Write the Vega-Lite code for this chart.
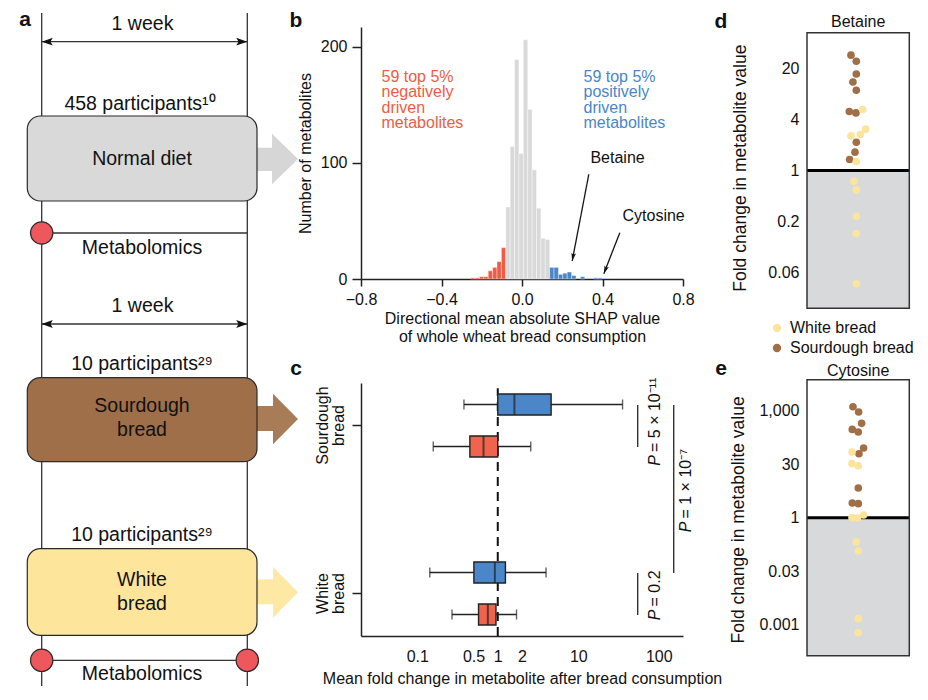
{
  "$schema": "https://vega.github.io/schema/vega-lite/v6.json",
  "padding": 0,
  "background": "white",
  "config": {
    "font": "Liberation Sans",
    "view": {"stroke": null},
    "axis": {"grid": false, "domainColor": "#222", "tickColor": "#222", "labelColor": "#111", "titleColor": "#111", "labelFontSize": 16, "titleFontSize": 16, "titleFontWeight": "normal", "domainWidth": 1.5, "tickWidth": 1.5, "labelFlush": false, "labelOverlap": false, "labelBound": false},
    "legend": {"labelFontSize": 16, "labelColor": "#111"},
    "title": {"fontSize": 16, "fontWeight": "normal", "color": "#111"}
  },
  "datasets": {
    "a_lines": [
      {"x": 4.17, "y": 1.2, "x2": 4.17, "y2": 68.5},
      {"x": 24.73, "y": 1.2, "x2": 24.73, "y2": 68.5},
      {"x": 4.17, "y": 4.07, "x2": 24.73, "y2": 4.07},
      {"x": 4.17, "y": 23.2, "x2": 24.73, "y2": 23.2},
      {"x": 4.17, "y": 32.3, "x2": 24.73, "y2": 32.3},
      {"x": 4.17, "y": 65.93, "x2": 24.73, "y2": 65.93}
    ],
    "a_heads": [
      {"x": 4.17, "y": 4.07, "end": "left"},
      {"x": 24.73, "y": 4.07, "end": "right"},
      {"x": 4.17, "y": 32.3, "end": "left"},
      {"x": 24.73, "y": 32.3, "end": "right"}
    ],
    "a_boxes": [
      {"kind": "Normal diet", "x": 2.73, "x2": 25.7, "y": 11.5, "y2": 20.0},
      {"kind": "Sourdough bread", "x": 2.73, "x2": 25.7, "y": 37.67, "y2": 46.07},
      {"kind": "White bread", "x": 2.73, "x2": 25.7, "y": 54.77, "y2": 63.43}
    ],
    "a_shafts": [
      {"kind": "Normal diet", "x": 25.6, "x2": 27.25, "y": 14.67, "y2": 17.0},
      {"kind": "Sourdough bread", "x": 25.6, "x2": 27.35, "y": 40.5, "y2": 43.0},
      {"kind": "White bread", "x": 25.6, "x2": 27.35, "y": 57.83, "y2": 60.33}
    ],
    "a_tips": [
      {"kind": "Normal diet", "x": 27.2, "y": 13.27, "y2": 18.33},
      {"kind": "Normal diet", "x": 29.8, "y": 15.8, "y2": 15.8},
      {"kind": "Sourdough bread", "x": 27.3, "y": 39.27, "y2": 44.33},
      {"kind": "Sourdough bread", "x": 29.8, "y": 41.8, "y2": 41.8},
      {"kind": "White bread", "x": 27.3, "y": 56.6, "y2": 61.67},
      {"kind": "White bread", "x": 29.8, "y": 59.13, "y2": 59.13}
    ],
    "a_dots": [
      {"x": 4.17, "y": 23.2},
      {"x": 4.17, "y": 65.93},
      {"x": 24.73, "y": 65.93}
    ],
    "a_texts": [
      {"x": 14.25, "y": 2.3, "text": "1 week"},
      {"x": 14.0, "y": 10.3, "text": "458 participants¹⁰"},
      {"x": 14.2, "y": 15.8, "text": "Normal diet"},
      {"x": 14.2, "y": 24.7, "text": "Metabolomics"},
      {"x": 14.25, "y": 30.5, "text": "1 week"},
      {"x": 14.2, "y": 36.3, "text": "10 participants²⁹"},
      {"x": 14.2, "y": 40.5, "text": "Sourdough\nbread"},
      {"x": 14.2, "y": 53.4, "text": "10 participants²⁹"},
      {"x": 14.2, "y": 57.9, "text": "White\nbread"},
      {"x": 14.2, "y": 67.3, "text": "Metabolomics"}
    ],
    "a_letters": [
      {"x": 2.5, "y": 1.9, "text": "a"},
      {"x": 29.6, "y": 2.0, "text": "b"},
      {"x": 29.6, "y": 36.8, "text": "c"},
      {"x": 72.1, "y": 2.1, "text": "d"},
      {"x": 72.1, "y": 36.8, "text": "e"}
    ],
    "b_bins": [
      {"start": -0.2550, "end": -0.2332, "count": 1, "group": "neg"},
      {"start": -0.2332, "end": -0.2114, "count": 1, "group": "neg"},
      {"start": -0.2114, "end": -0.1896, "count": 2, "group": "neg"},
      {"start": -0.1896, "end": -0.1678, "count": 2, "group": "neg"},
      {"start": -0.1678, "end": -0.1460, "count": 7, "group": "neg"},
      {"start": -0.1460, "end": -0.1242, "count": 10, "group": "neg"},
      {"start": -0.1242, "end": -0.1024, "count": 15, "group": "neg"},
      {"start": -0.1024, "end": -0.0806, "count": 27, "group": "neg"},
      {"start": -0.0806, "end": -0.0588, "count": 62, "group": "mid"},
      {"start": -0.0588, "end": -0.0370, "count": 114, "group": "mid"},
      {"start": -0.0370, "end": -0.0152, "count": 189, "group": "mid"},
      {"start": -0.0152, "end": 0.0066, "count": 108, "group": "mid"},
      {"start": 0.0066, "end": 0.0284, "count": 206, "group": "mid"},
      {"start": 0.0284, "end": 0.0502, "count": 146, "group": "mid"},
      {"start": 0.0502, "end": 0.0720, "count": 94, "group": "mid"},
      {"start": 0.0720, "end": 0.0938, "count": 61, "group": "mid"},
      {"start": 0.0938, "end": 0.1156, "count": 35, "group": "mid"},
      {"start": 0.1156, "end": 0.1374, "count": 34, "group": "mid"},
      {"start": 0.1374, "end": 0.1592, "count": 10, "group": "pos"},
      {"start": 0.1592, "end": 0.1810, "count": 10, "group": "pos"},
      {"start": 0.1810, "end": 0.2028, "count": 4, "group": "pos"},
      {"start": 0.2028, "end": 0.2246, "count": 5, "group": "pos"},
      {"start": 0.2246, "end": 0.2464, "count": 6, "group": "pos"},
      {"start": 0.2464, "end": 0.2682, "count": 3, "group": "pos"},
      {"start": 0.2900, "end": 0.3118, "count": 2, "group": "pos"},
      {"start": 0.3554, "end": 0.3772, "count": 1, "group": "pos"},
      {"start": 0.3772, "end": 0.3990, "count": 1, "group": "pos"}
    ],
    "b_groups": [
      {"group": "neg", "x": -0.698, "y": 174, "label": "59 top 5%\nnegatively\ndriven\nmetabolites"},
      {"group": "pos", "x": 0.3056, "y": 174, "label": "59 top 5%\npositively\ndriven\nmetabolites"}
    ],
    "b_names": [
      {"name": "Betaine", "x": 0.340, "y": 104.2},
      {"name": "Cytosine", "x": 0.4994, "y": 54.2}
    ],
    "b_arrows": [
      {"name": "Betaine", "x": 0.332, "y": 90.2, "x2": 0.2494, "y2": 15.5},
      {"name": "Cytosine", "x": 0.486, "y": 39.9, "x2": 0.4066, "y2": 4.6}
    ],
    "c_boxes": [
      {"bread": "Sourdough bread", "dir": "positive", "lo": 0.38, "q1": 1.0, "med": 1.61, "q3": 4.6, "hi": 35.5},
      {"bread": "Sourdough bread", "dir": "negative", "lo": 0.158, "q1": 0.45, "med": 0.665, "q3": 1.0, "hi": 2.57},
      {"bread": "White bread", "dir": "positive", "lo": 0.143, "q1": 0.505, "med": 0.92, "q3": 1.245, "hi": 3.98},
      {"bread": "White bread", "dir": "negative", "lo": 0.27, "q1": 0.577, "med": 0.753, "q3": 0.95, "hi": 1.71}
    ],
    "c_pvals": [
      {"x": 54.8, "y": 8.965, "y2": 10.957, "tx": 90, "split": 8.585, "stat": "P", "rest": "= 5 × 10⁻¹¹"},
      {"x": 153.5, "y": 2.988, "y2": 10.957, "tx": 221, "split": 5.43, "stat": "P", "rest": "= 1 × 10⁻⁷"},
      {"x": 54.8, "y": 0.996, "y2": 2.988, "tx": 90, "split": 1.257, "stat": "P", "rest": "= 0.2"}
    ],
    "d_frame": [{"metabolite": "Betaine", "bottom": 0.0233, "ref": 1, "top": 43}],
    "e_frame": [{"metabolite": "Cytosine", "bottom": 0.000133, "ref": 1, "top": 7498}],
    "d_pts": [
      {"bread": "Sourdough bread", "swarm": -0.76, "fold": 23.3},
      {"bread": "Sourdough bread", "swarm": 0, "fold": 19.7},
      {"bread": "Sourdough bread", "swarm": 0, "fold": 13.9},
      {"bread": "Sourdough bread", "swarm": -0.48, "fold": 11.2},
      {"bread": "Sourdough bread", "swarm": 0, "fold": 8.94},
      {"bread": "Sourdough bread", "swarm": -1.0, "fold": 5.0},
      {"bread": "Sourdough bread", "swarm": -0.05, "fold": 4.82},
      {"bread": "Sourdough bread", "swarm": 0, "fold": 2.16},
      {"bread": "Sourdough bread", "swarm": -0.19, "fold": 1.65},
      {"bread": "Sourdough bread", "swarm": -0.95, "fold": 1.35},
      {"bread": "White bread", "swarm": 0.9, "fold": 5.28},
      {"bread": "White bread", "swarm": 1.33, "fold": 3.09},
      {"bread": "White bread", "swarm": 0.57, "fold": 2.67},
      {"bread": "White bread", "swarm": -0.76, "fold": 2.57},
      {"bread": "White bread", "swarm": 0, "fold": 1.28},
      {"bread": "White bread", "swarm": -0.33, "fold": 0.747},
      {"bread": "White bread", "swarm": 0, "fold": 0.589},
      {"bread": "White bread", "swarm": 0, "fold": 0.287},
      {"bread": "White bread", "swarm": 0, "fold": 0.179},
      {"bread": "White bread", "swarm": 0, "fold": 0.0454}
    ],
    "e_pts": [
      {"bread": "Sourdough bread", "swarm": -0.76, "fold": 1305},
      {"bread": "Sourdough bread", "swarm": 0.05, "fold": 929},
      {"bread": "Sourdough bread", "swarm": 0.48, "fold": 446},
      {"bread": "Sourdough bread", "swarm": -0.86, "fold": 302},
      {"bread": "Sourdough bread", "swarm": 0, "fold": 254},
      {"bread": "Sourdough bread", "swarm": 0.76, "fold": 90.5},
      {"bread": "Sourdough bread", "swarm": 0.1, "fold": 62.7},
      {"bread": "Sourdough bread", "swarm": 0, "fold": 6.82},
      {"bread": "Sourdough bread", "swarm": -0.86, "fold": 2.59},
      {"bread": "Sourdough bread", "swarm": 0, "fold": 2.48},
      {"bread": "White bread", "swarm": -0.9, "fold": 70},
      {"bread": "White bread", "swarm": -0.9, "fold": 32.9},
      {"bread": "White bread", "swarm": 0, "fold": 28.8},
      {"bread": "White bread", "swarm": -0.9, "fold": 1.0},
      {"bread": "White bread", "swarm": -0.1, "fold": 0.98},
      {"bread": "White bread", "swarm": 0.76, "fold": 1.19},
      {"bread": "White bread", "swarm": -0.29, "fold": 0.208},
      {"bread": "White bread", "swarm": 0, "fold": 0.116},
      {"bread": "White bread", "swarm": 0, "fold": 0.00146},
      {"bread": "White bread", "swarm": 0, "fold": 0.000588}
    ]
  },
  "columns": 4,
  "spacing": {"row": 74, "column": 61},
  "bounds": "flush",
  "align": "each",
  "resolve": {"scale": {"color": "independent", "fill": "independent", "shape": "independent"}, "legend": {"color": "independent"}},
  "concat": [
    {
      "width": 300,
      "height": 281.3,
      "resolve": {"scale": {"fill": "independent"}},
      "layer": [
        {
          "data": {"values": [{"x": 0, "y": 0, "x2": 1, "y2": 0.05}]},
          "mark": {"type": "rect", "fill": "white"},
          "encoding": {
            "x": {"field": "x", "type": "quantitative", "scale": {"domain": [0, 30], "nice": false, "zero": false}, "axis": null},
            "x2": {"field": "x2"},
            "y": {"field": "y", "type": "quantitative", "scale": {"domain": [2.6, 30.73], "reverse": true, "nice": false, "zero": false}, "axis": null},
            "y2": {"field": "y2"}
          }
        },
        {
          "data": {"name": "a_lines"},
          "mark": {"type": "rule", "color": "#333", "strokeWidth": 1.3},
          "encoding": {
            "x": {"field": "x", "type": "quantitative", "scale": {"domain": [0, 30], "nice": false, "zero": false}, "axis": null},
            "x2": {"field": "x2"},
            "y": {"field": "y", "type": "quantitative", "scale": {"domain": [2.6, 30.73], "reverse": true, "nice": false, "zero": false}, "axis": null},
            "y2": {"field": "y2"}
          }
        },
        {
          "data": {"name": "a_shafts"},
          "mark": {"type": "rect"},
          "encoding": {
            "x": {"field": "x", "type": "quantitative", "scale": {"domain": [0, 30], "nice": false, "zero": false}, "axis": null},
            "x2": {"field": "x2"},
            "y": {"field": "y", "type": "quantitative", "scale": {"domain": [2.6, 30.73], "reverse": true, "nice": false, "zero": false}, "axis": null},
            "y2": {"field": "y2"},
            "fill": {"field": "kind", "type": "nominal", "scale": {"domain": ["Normal diet", "Sourdough bread", "White bread"], "range": ["#d6d6d6", "#a97c58", "#fde8a4"]}, "legend": null}
          }
        },
        {
          "data": {"name": "a_tips"},
          "mark": {"type": "area"},
          "encoding": {
            "x": {"field": "x", "type": "quantitative", "scale": {"domain": [0, 30], "nice": false, "zero": false}, "axis": null},
            "y": {"field": "y", "type": "quantitative", "scale": {"domain": [2.6, 30.73], "reverse": true, "nice": false, "zero": false}, "axis": null},
            "y2": {"field": "y2"},
            "fill": {"field": "kind", "type": "nominal", "scale": {"domain": ["Normal diet", "Sourdough bread", "White bread"], "range": ["#d6d6d6", "#a97c58", "#fde8a4"]}, "legend": null}
          }
        },
        {
          "data": {"name": "a_boxes"},
          "mark": {"type": "rect", "cornerRadius": 13, "stroke": "#2b2b2b", "strokeWidth": 1.2},
          "encoding": {
            "x": {"field": "x", "type": "quantitative", "scale": {"domain": [0, 30], "nice": false, "zero": false}, "axis": null},
            "x2": {"field": "x2"},
            "y": {"field": "y", "type": "quantitative", "scale": {"domain": [2.6, 30.73], "reverse": true, "nice": false, "zero": false}, "axis": null},
            "y2": {"field": "y2"},
            "fill": {"field": "kind", "type": "nominal", "scale": {"domain": ["Normal diet", "Sourdough bread", "White bread"], "range": ["#d9d9d9", "#9e6f49", "#fde69c"]}, "legend": null}
          }
        },
        {
          "data": {"name": "a_dots"},
          "mark": {"type": "circle", "size": 500, "fill": "#ee585c", "stroke": "#2b2b2b", "strokeWidth": 1.2, "opacity": 1},
          "encoding": {
            "x": {"field": "x", "type": "quantitative", "scale": {"domain": [0, 30], "nice": false, "zero": false}, "axis": null},
            "y": {"field": "y", "type": "quantitative", "scale": {"domain": [2.6, 30.73], "reverse": true, "nice": false, "zero": false}, "axis": null}
          }
        },
        {
          "data": {"name": "a_heads"},
          "mark": {"type": "point", "filled": true, "color": "#111", "size": 85, "opacity": 1},
          "encoding": {
            "x": {"field": "x", "type": "quantitative", "scale": {"domain": [0, 30], "nice": false, "zero": false}, "axis": null},
            "y": {"field": "y", "type": "quantitative", "scale": {"domain": [2.6, 30.73], "reverse": true, "nice": false, "zero": false}, "axis": null},
            "shape": {"field": "end", "type": "nominal", "scale": {"domain": ["left", "right"], "range": ["M0,0L2.4,-0.85L1.9,0L2.4,0.85Z", "M0,0L-2.4,-0.85L-1.9,0L-2.4,0.85Z"]}, "legend": null}
          }
        },
        {
          "data": {"name": "a_texts"},
          "mark": {"type": "text", "fontSize": 19.5, "lineBreak": "\n", "lineHeight": 24, "align": "center", "baseline": "middle", "color": "#111"},
          "encoding": {
            "x": {"field": "x", "type": "quantitative", "scale": {"domain": [0, 30], "nice": false, "zero": false}, "axis": null},
            "y": {"field": "y", "type": "quantitative", "scale": {"domain": [2.6, 30.73], "reverse": true, "nice": false, "zero": false}, "axis": null},
            "text": {"field": "text"}
          }
        },
        {
          "data": {"name": "a_letters"},
          "mark": {"type": "text", "fontSize": 21, "fontWeight": "bold", "align": "center", "baseline": "middle", "color": "#111"},
          "encoding": {
            "x": {"field": "x", "type": "quantitative", "scale": {"domain": [0, 30], "nice": false, "zero": false}, "axis": null},
            "y": {"field": "y", "type": "quantitative", "scale": {"domain": [2.6, 30.73], "reverse": true, "nice": false, "zero": false}, "axis": null},
            "text": {"field": "text"}
          }
        }
      ]
    },
    {
      "width": 322,
      "height": 252,
      "layer": [
        {
          "data": {"name": "b_bins"},
          "mark": {"type": "rect", "stroke": "white", "strokeWidth": 0.4},
          "encoding": {
            "x": {"field": "start", "type": "quantitative", "scale": {"domain": [-0.8, 0.8], "nice": false, "zero": false},
                  "axis": {"values": [-0.8, -0.4, 0, 0.4, 0.8], "format": ".1f", "title": ["Directional mean absolute SHAP value", "of whole wheat bread consumption"], "tickSize": 7, "labelPadding": 5, "titlePadding": 3, "titleLineHeight": 18}},
            "x2": {"field": "end"},
            "y": {"field": "count", "type": "quantitative", "scale": {"domain": [0, 217], "nice": false, "zero": false},
                  "axis": {"values": [0, 100, 200], "title": "Number of metabolites", "tickSize": 9, "labelPadding": 5, "titlePadding": 7}},
            "y2": {"datum": 0},
            "color": {"field": "group", "type": "nominal", "scale": {"domain": ["neg", "mid", "pos"], "range": ["#f15b43", "#d9d9d9", "#4a86c8"]}, "legend": null}
          }
        },
        {
          "data": {"name": "b_groups"},
          "mark": {"type": "text", "align": "left", "baseline": "middle", "lineBreak": "\n", "lineHeight": 15.5, "fontSize": 16},
          "encoding": {
            "x": {"field": "x", "type": "quantitative", "scale": {"domain": [-0.8, 0.8], "nice": false, "zero": false}},
            "y": {"field": "y", "type": "quantitative", "scale": {"domain": [0, 217], "nice": false, "zero": false}},
            "text": {"field": "label"},
            "color": {"field": "group", "type": "nominal", "scale": {"domain": ["neg", "mid", "pos"], "range": ["#f15b43", "#d9d9d9", "#4a86c8"]}, "legend": null}
          }
        },
        {
          "data": {"name": "b_names"},
          "mark": {"type": "text", "align": "left", "baseline": "middle", "fontSize": 16, "color": "#111"},
          "encoding": {
            "x": {"field": "x", "type": "quantitative", "scale": {"domain": [-0.8, 0.8], "nice": false, "zero": false}},
            "y": {"field": "y", "type": "quantitative", "scale": {"domain": [0, 217], "nice": false, "zero": false}},
            "text": {"field": "name"}
          }
        },
        {
          "data": {"name": "b_arrows"},
          "mark": {"type": "rule", "color": "#111", "strokeWidth": 1.3},
          "encoding": {
            "x": {"field": "x", "type": "quantitative", "scale": {"domain": [-0.8, 0.8], "nice": false, "zero": false}},
            "y": {"field": "y", "type": "quantitative", "scale": {"domain": [0, 217], "nice": false, "zero": false}},
            "x2": {"field": "x2"},
            "y2": {"field": "y2"}
          }
        },
        {
          "data": {"name": "b_arrows"},
          "transform": [{"filter": "datum.name === 'Betaine'"}],
          "mark": {"type": "point", "shape": "M0,0L-0.7,-2.4L0,-1.9L0.7,-2.4Z", "filled": true, "color": "#111", "size": 44, "angle": 10.8, "opacity": 1},
          "encoding": {
            "x": {"field": "x2", "type": "quantitative", "scale": {"domain": [-0.8, 0.8], "nice": false, "zero": false}},
            "y": {"field": "y2", "type": "quantitative", "scale": {"domain": [0, 217], "nice": false, "zero": false}}
          }
        },
        {
          "data": {"name": "b_arrows"},
          "transform": [{"filter": "datum.name === 'Cytosine'"}],
          "mark": {"type": "point", "shape": "M0,0L-0.7,-2.4L0,-1.9L0.7,-2.4Z", "filled": true, "color": "#111", "size": 44, "angle": 21.3, "opacity": 1},
          "encoding": {
            "x": {"field": "x2", "type": "quantitative", "scale": {"domain": [-0.8, 0.8], "nice": false, "zero": false}},
            "y": {"field": "y2", "type": "quantitative", "scale": {"domain": [0, 217], "nice": false, "zero": false}}
          }
        }
      ]
    },
    {
      "width": 1.7,
      "height": 1,
      "data": {"values": [{}]},
      "mark": {"type": "text"},
      "encoding": {"text": {"value": ""}}
    },
    {
      "width": 102.3,
      "height": 281.3,
      "layer": [
        {
          "data": {"name": "d_frame"},
          "mark": {"type": "rect", "color": "#d8d9da"},
          "encoding": {
            "x": {"value": 0},
            "x2": {"value": "width"},
            "y": {"field": "bottom", "type": "quantitative", "scale": {"type": "log", "domain": [0.0233, 50.2], "nice": false},
                  "axis": {"values": [0.0625, 0.25, 1, 4, 16], "labelExpr": "datum.value == 16 ? '20' : datum.value == 4 ? '4' : datum.value == 1 ? '1' : datum.value == 0.25 ? '0.2' : '0.06'", "ticks": false, "domain": false, "labelPadding": 8, "title": "Fold change in metabolite value", "titleFontSize": 17.5, "titlePadding": 18}},
            "y2": {"field": "ref"}
          }
        },
        {
          "data": {"name": "d_frame"},
          "mark": {"type": "rule", "color": "#000", "strokeWidth": 3},
          "encoding": {
            "y": {"field": "ref", "type": "quantitative", "scale": {"type": "log", "domain": [0.0233, 50.2], "nice": false}}
          }
        },
        {
          "data": {"name": "d_pts"},
          "mark": {"type": "circle", "size": 58, "opacity": 1},
          "encoding": {
            "x": {"field": "swarm", "type": "quantitative", "scale": {"domain": [-7.04, 7.57], "nice": false, "zero": false}, "axis": null},
            "y": {"field": "fold", "type": "quantitative", "scale": {"type": "log", "domain": [0.0233, 50.2], "nice": false}},
            "color": {"field": "bread", "type": "nominal", "scale": {"domain": ["White bread", "Sourdough bread"], "range": ["#fde49c", "#a06e47"]},
                      "legend": {"orient": "none", "legendX": -38, "legendY": 293, "title": null, "symbolType": "circle", "symbolSize": 70, "labelFontSize": 16, "labelOffset": 5, "rowPadding": 4}}
          }
        },
        {
          "data": {"name": "d_frame"},
          "mark": {"type": "rect", "fill": "transparent", "stroke": "#333", "strokeWidth": 1.5},
          "encoding": {
            "x": {"value": 0},
            "x2": {"value": "width"},
            "y": {"field": "bottom", "type": "quantitative", "scale": {"type": "log", "domain": [0.0233, 50.2], "nice": false}},
            "y2": {"field": "top"}
          }
        },
        {
          "data": {"name": "d_frame"},
          "mark": {"type": "text", "align": "center", "baseline": "alphabetic", "fontSize": 16, "color": "#111"},
          "encoding": {
            "x": {"datum": 0.265, "type": "quantitative", "scale": {"domain": [-7.04, 7.57], "nice": false, "zero": false}},
            "y": {"datum": 50.2, "type": "quantitative", "scale": {"type": "log", "domain": [0.0233, 50.2], "nice": false}},
            "text": {"field": "metabolite"}
          }
        }
      ]
    },
    {
      "width": 300,
      "height": 1,
      "data": {"values": [{}]},
      "mark": {"type": "text"},
      "encoding": {"text": {"value": ""}}
    },
    {
      "width": 322,
      "height": 253,
      "resolve": {"scale": {"y": "independent"}, "axis": {"y": "independent"}},
      "layer": [
        {
          "data": {"values": [{"ref": 1}]},
          "mark": {"type": "rule", "strokeDash": [9, 6], "strokeWidth": 2, "color": "#111"},
          "encoding": {
            "x": {"field": "ref", "type": "quantitative", "scale": {"type": "log", "domain": [0.02, 200], "nice": false}},
            "y": {"datum": 0, "type": "quantitative", "scale": {"domain": [0, 12], "nice": false, "zero": false}, "axis": null},
            "y2": {"datum": 11.75}
          }
        },
        {
          "data": {"name": "c_boxes"},
          "encoding": {
            "y": {"field": "bread", "type": "nominal", "scale": {"domain": ["Sourdough bread", "White bread"], "paddingInner": 0.5, "paddingOuter": 0.003},
                  "axis": {"title": null, "labelExpr": "split(datum.label, ' ')", "labelAngle": 270, "labelAlign": "center", "labelBaseline": "bottom", "labelLineHeight": 16.5, "tickSize": 9, "labelPadding": 22, "bandPosition": 0.5}},
            "yOffset": {"field": "dir", "type": "nominal", "scale": {"domain": ["positive", "negative"], "paddingInner": 0.5, "paddingOuter": 0.25}}
          },
          "layer": [
            {
              "mark": {"type": "rule", "color": "#222", "strokeWidth": 1.3},
              "encoding": {
                "x": {"field": "lo", "type": "quantitative", "scale": {"type": "log", "domain": [0.02, 200], "nice": false},
                      "axis": {"values": [0.1, 0.5, 1, 2, 10, 100], "format": "~g", "ticks": false, "labelPadding": 12, "title": "Mean fold change in metabolite after bread consumption", "titlePadding": 6}},
                "x2": {"field": "hi"}
              }
            },
            {
              "mark": {"type": "tick", "color": "#222", "size": 10, "thickness": 1.4},
              "encoding": {"x": {"field": "lo", "type": "quantitative", "scale": {"type": "log", "domain": [0.02, 200], "nice": false}}}
            },
            {
              "mark": {"type": "tick", "color": "#222", "size": 10, "thickness": 1.4},
              "encoding": {"x": {"field": "hi", "type": "quantitative", "scale": {"type": "log", "domain": [0.02, 200], "nice": false}}}
            },
            {
              "mark": {"type": "bar", "stroke": "#222", "strokeWidth": 1.4},
              "encoding": {
                "x": {"field": "q1", "type": "quantitative", "scale": {"type": "log", "domain": [0.02, 200], "nice": false}},
                "x2": {"field": "q3"},
                "color": {"field": "dir", "type": "nominal", "scale": {"domain": ["positive", "negative"], "range": ["#4a86c8", "#f0634c"]}, "legend": null}
              }
            },
            {
              "mark": {"type": "tick", "color": "#222", "size": 21, "thickness": 2},
              "encoding": {"x": {"field": "med", "type": "quantitative", "scale": {"type": "log", "domain": [0.02, 200], "nice": false}}}
            }
          ]
        },
        {
          "data": {"name": "c_pvals"},
          "mark": {"type": "rule", "color": "#111", "strokeWidth": 1.2},
          "encoding": {
            "x": {"field": "x", "type": "quantitative", "scale": {"type": "log", "domain": [0.02, 200], "nice": false}},
            "y": {"field": "y", "type": "quantitative", "scale": {"domain": [0, 12], "nice": false, "zero": false}, "axis": null},
            "y2": {"field": "y2"}
          }
        },
        {
          "data": {"name": "c_pvals"},
          "mark": {"type": "text", "angle": 270, "align": "right", "baseline": "middle", "fontSize": 16, "fontStyle": "italic", "color": "#111"},
          "encoding": {
            "x": {"field": "tx", "type": "quantitative", "scale": {"type": "log", "domain": [0.02, 200], "nice": false}},
            "y": {"field": "split", "type": "quantitative", "scale": {"domain": [0, 12], "nice": false, "zero": false}, "axis": null},
            "text": {"field": "stat"}
          }
        },
        {
          "data": {"name": "c_pvals"},
          "mark": {"type": "text", "angle": 270, "align": "left", "baseline": "middle", "fontSize": 16, "dx": 3, "color": "#111"},
          "encoding": {
            "x": {"field": "tx", "type": "quantitative", "scale": {"type": "log", "domain": [0.02, 200], "nice": false}},
            "y": {"field": "split", "type": "quantitative", "scale": {"domain": [0, 12], "nice": false, "zero": false}, "axis": null},
            "text": {"field": "rest"}
          }
        }
      ]
    },
    {
      "width": 1.7,
      "height": 1,
      "data": {"values": [{}]},
      "mark": {"type": "text"},
      "encoding": {"text": {"value": ""}}
    },
    {
      "width": 102.3,
      "height": 272.7,
      "layer": [
        {
          "data": {"name": "e_frame"},
          "mark": {"type": "rect", "color": "#d8d9da"},
          "encoding": {
            "x": {"value": 0},
            "x2": {"value": "width"},
            "y": {"field": "bottom", "type": "quantitative", "scale": {"type": "log", "domain": [0.000133, 6060], "nice": false},
                  "axis": {"values": [0.0009765625, 0.03125, 1, 32, 1024], "labelExpr": "datum.value == 1024 ? '1,000' : datum.value == 32 ? '30' : datum.value == 1 ? '1' : datum.value == 0.03125 ? '0.03' : '0.001'", "ticks": false, "domain": false, "labelPadding": 8, "title": "Fold change in metabolite value", "titleFontSize": 17.5, "titlePadding": 11}},
            "y2": {"field": "ref"}
          }
        },
        {
          "data": {"name": "e_frame"},
          "mark": {"type": "rule", "color": "#000", "strokeWidth": 3},
          "encoding": {
            "y": {"field": "ref", "type": "quantitative", "scale": {"type": "log", "domain": [0.000133, 6060], "nice": false}}
          }
        },
        {
          "data": {"name": "e_pts"},
          "mark": {"type": "circle", "size": 58, "opacity": 1},
          "encoding": {
            "x": {"field": "swarm", "type": "quantitative", "scale": {"domain": [-7.33, 7.29], "nice": false, "zero": false}, "axis": null},
            "y": {"field": "fold", "type": "quantitative", "scale": {"type": "log", "domain": [0.000133, 6060], "nice": false}},
            "color": {"field": "bread", "type": "nominal", "scale": {"domain": ["White bread", "Sourdough bread"], "range": ["#fde49c", "#a06e47"]}, "legend": null}
          }
        },
        {
          "data": {"name": "e_frame"},
          "mark": {"type": "rect", "fill": "transparent", "stroke": "#333", "strokeWidth": 1.5},
          "encoding": {
            "x": {"value": 0},
            "x2": {"value": "width"},
            "y": {"field": "bottom", "type": "quantitative", "scale": {"type": "log", "domain": [0.000133, 6060], "nice": false}},
            "y2": {"field": "top"}
          }
        },
        {
          "data": {"name": "e_frame"},
          "mark": {"type": "text", "align": "center", "baseline": "alphabetic", "fontSize": 16, "color": "#111"},
          "encoding": {
            "x": {"datum": -0.02, "type": "quantitative", "scale": {"domain": [-7.33, 7.29], "nice": false, "zero": false}},
            "y": {"datum": 9670, "type": "quantitative", "scale": {"type": "log", "domain": [0.000133, 6060], "nice": false}},
            "text": {"field": "metabolite"}
          }
        }
      ]
    }
  ]
}
